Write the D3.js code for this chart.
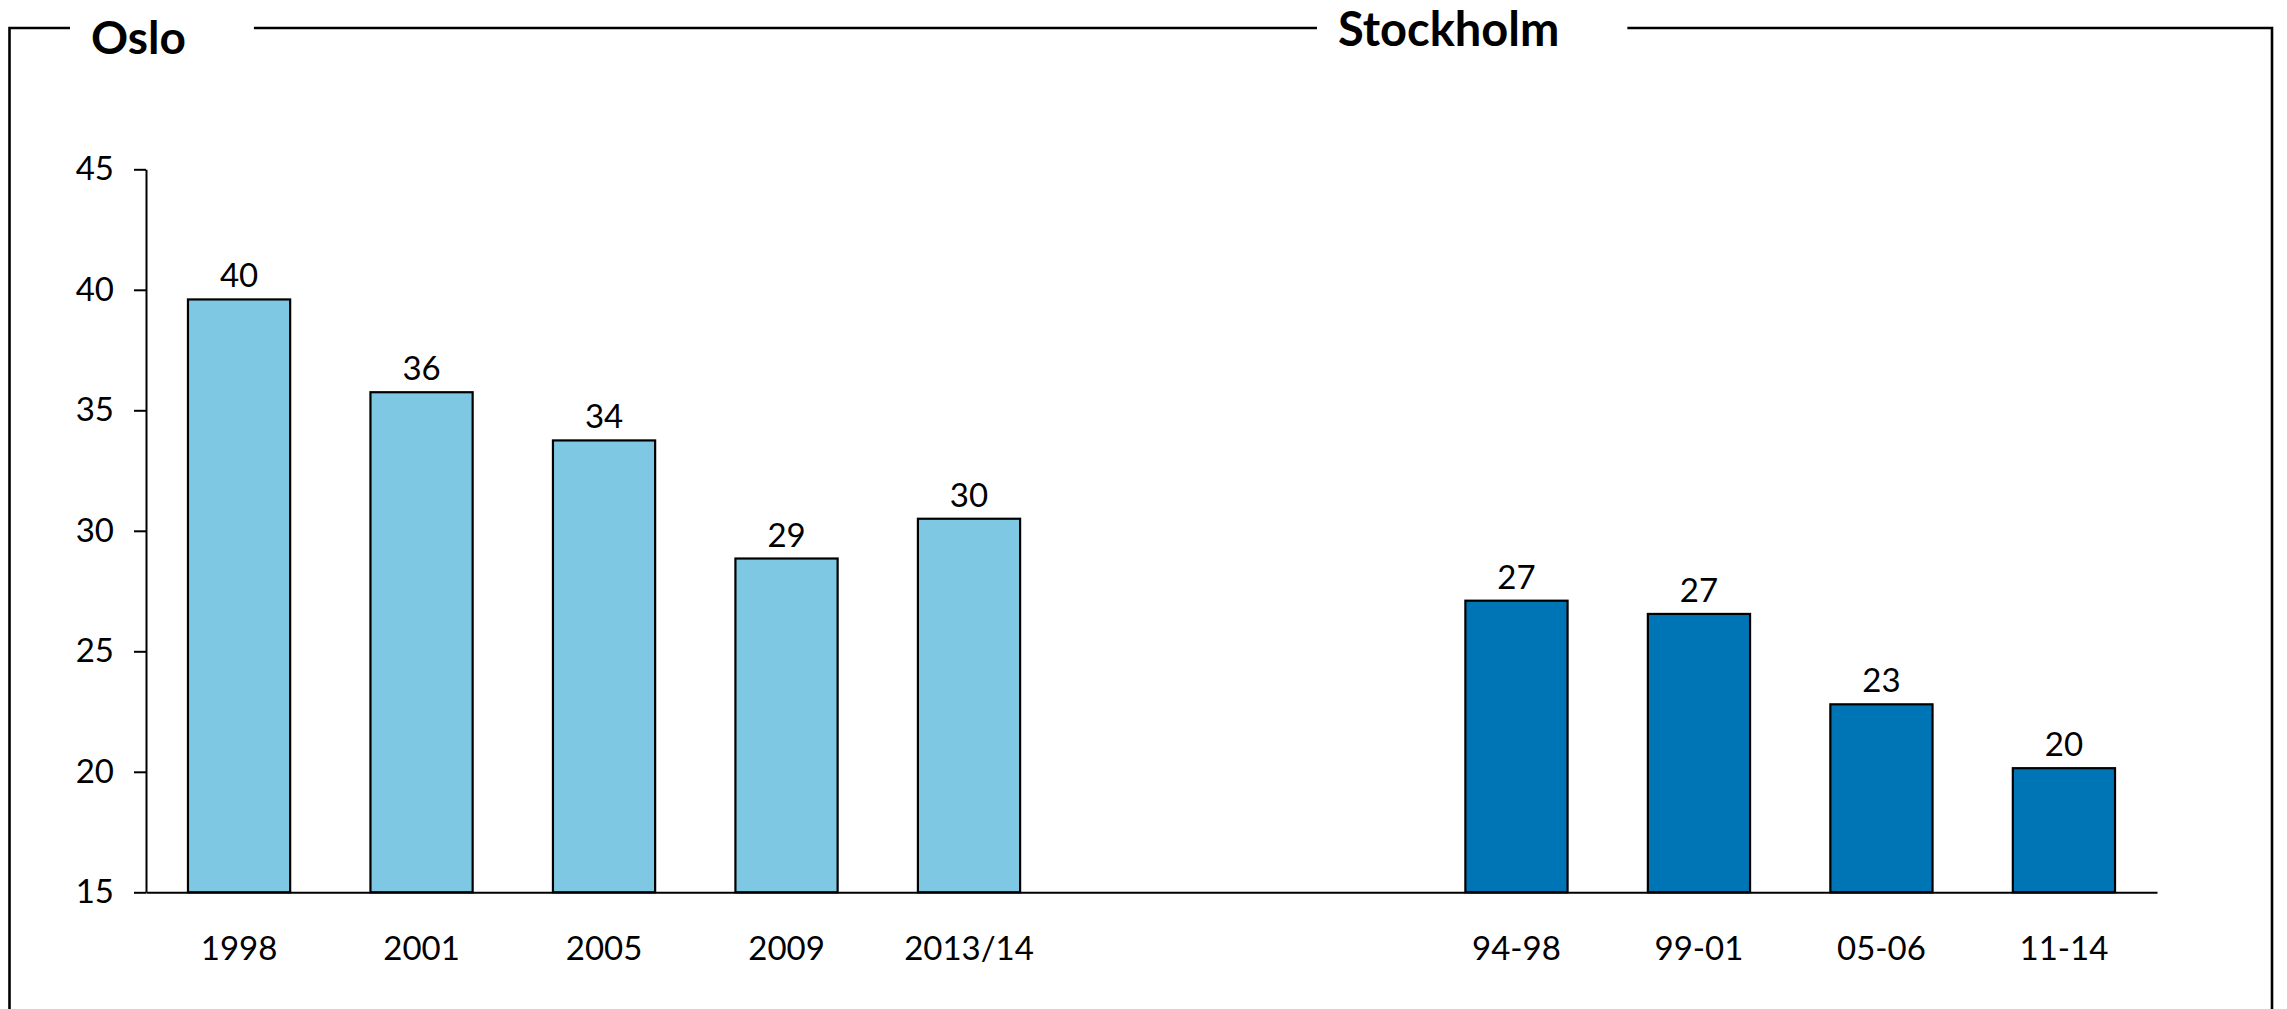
<!DOCTYPE html>
<html>
<head>
<meta charset="utf-8">
<script src="https://cdn.jsdelivr.net/npm/d3@7"></script>
<style>
    html, body { margin: 0; padding: 0; background: #fff; }
    svg text { font-family: Lato, "Open Sans", sans-serif; fill: #000; }
</style>
</head>
<body>
<svg class="chart" width="2287" height="1009"></svg>
<script>
// ---- Data ----
const osloYears = ["1998", "2001", "2005", "2009", "2013/14"];
const osloValues = [39.6, 35.75, 33.75, 28.85, 30.5];
const stockholmPeriods = ["94-98", "99-01", "05-06", "11-14"];
const stockholmValues = [27.1, 26.55, 22.8, 20.15];
const gapSlots = ["", " "];            // two empty slots between the cities
const yTicks = [15, 20, 25, 30, 35, 40, 45];
const panelTitles = ["Oslo", "Stockholm"];
const valueLabels = [40, 36, 34, 29, 30, 27, 27, 23, 20];

const osloFill = "#7ec8e4";
const stockholmFill = "#0075b5";

// ---- Layout ----
const svg = d3.select("svg.chart");
const W = 2287, H = 1009;
const margin = {left: 146, right: W - 2157, top: 169.3, bottom: H - 892.3};

const rows = osloYears.map((c, i) => ({cat: c, v: osloValues[i], fill: osloFill}))
    .concat(stockholmPeriods.map((c, i) => ({cat: c, v: stockholmValues[i], fill: stockholmFill})));
rows.forEach((r, i) => r.label = valueLabels[i]);

const x = d3.scaleBand()
    .domain([...osloYears, ...gapSlots, ...stockholmPeriods])
    .range([margin.left, W - margin.right])
    .paddingInner(0.44)
    .paddingOuter(0.23);

const y = d3.scaleLinear()
    .domain([15, 45])
    .range([H - margin.bottom, margin.top]);

// ---- Frame with titles breaking the top line ----
const frameTop = 28, frameL = 9.5, frameR = 2272;
const titles = svg.append("g").classed("titles", true)
    .selectAll("text")
    .data([
        {t: panelTitles[0], x: 91, y: 54, size: 46},
        {t: panelTitles[1], x: 1338, y: 46, size: 47}
    ])
    .join("text")
    .attr("x", d => d.x)
    .attr("y", d => d.y)
    .attr("font-size", d => d.size)
    .attr("font-weight", "bold")
    .text(d => d.t);

const boxes = titles.nodes().map(n => n.getBBox());
const gaps = boxes.map(b => [b.x - 21, b.x + b.width + 68]);
const framePath = d3.path();
framePath.moveTo(frameL, H + 5);
framePath.lineTo(frameL, frameTop);
framePath.lineTo(gaps[0][0], frameTop);
framePath.moveTo(gaps[0][1], frameTop);
framePath.lineTo(gaps[1][0], frameTop);
framePath.moveTo(gaps[1][1], frameTop);
framePath.lineTo(frameR, frameTop);
framePath.lineTo(frameR, H + 5);
svg.append("path")
    .attr("d", framePath.toString())
    .attr("fill", "none")
    .attr("stroke", "#000")
    .attr("stroke-width", 2.6);

// ---- Bars ----
svg.append("g").classed("bars", true)
    .selectAll("rect")
    .data(rows)
    .join("rect")
    .attr("x", d => x(d.cat))
    .attr("width", x.bandwidth())
    .attr("y", d => y(d.v))
    .attr("height", d => y(15) - y(d.v))
    .attr("fill", d => d.fill)
    .attr("stroke", "#000")
    .attr("stroke-width", 2.2);

// Value labels
svg.append("g").classed("values", true)
    .selectAll("text")
    .data(rows)
    .join("text")
    .attr("x", d => x(d.cat) + x.bandwidth() / 2)
    .attr("y", d => y(d.v) - 12)
    .attr("text-anchor", "middle")
    .attr("font-size", 33)
    .text(d => d.label);

// ---- Axes ----
const yAxis = svg.append("g")
    .attr("transform", `translate(${margin.left},0)`)
    .call(d3.axisLeft(y).tickValues(yTicks).tickSize(12).tickPadding(20).tickSizeOuter(0));
yAxis.selectAll("line, path").attr("stroke", "#000").attr("stroke-width", 2);
yAxis.selectAll("text").attr("font-size", 33).attr("font-family", null);

const xAxis = svg.append("g")
    .attr("transform", `translate(0,${y(15)})`)
    .call(d3.axisBottom(x).tickSize(0).tickPadding(44).tickSizeOuter(0));
xAxis.select("path").attr("stroke", "#000").attr("stroke-width", 2);
xAxis.selectAll("text").attr("font-size", 33).attr("font-family", null);
</script>
</body>
</html>
